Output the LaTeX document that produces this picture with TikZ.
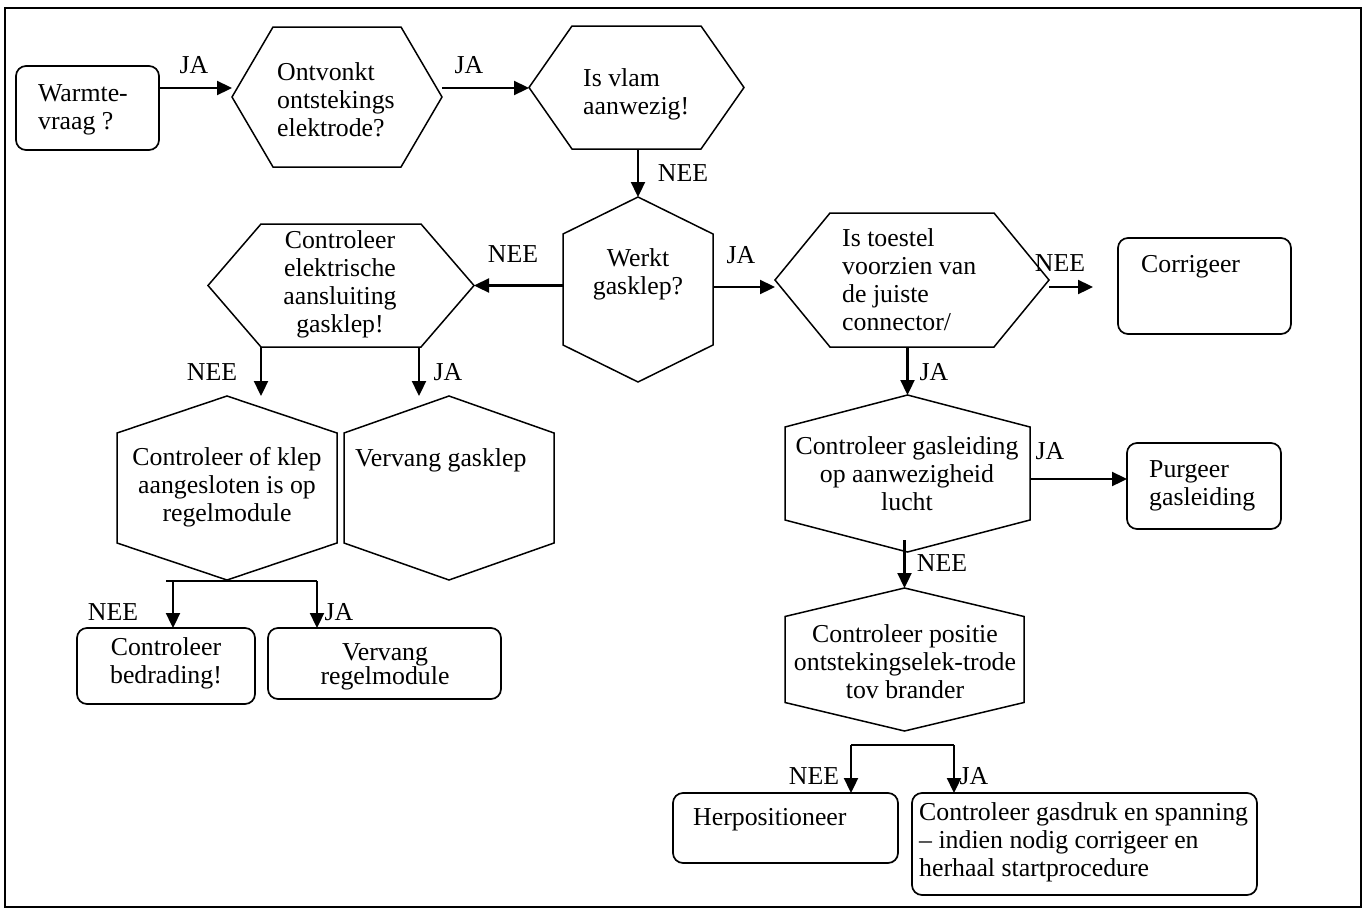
\documentclass[tikz,border=0pt]{standalone}
\usepackage{fontspec}
\setmainfont{Liberation Serif}
\usetikzlibrary{arrows.meta,calc}
\newcommand{\fsz}{\fontsize{25.8}{28}\selectfont}
\newcommand{\hexH}[2]{%
  \draw[hexline] ($(#1.north west)+(#2,0)$) -- ($(#1.north east)+(-#2,0)$) -- (#1.east)
    -- ($(#1.south east)+(-#2,0)$) -- ($(#1.south west)+(#2,0)$) -- (#1.west) -- cycle;}
\newcommand{\hexV}[2]{%
  \draw[hexline] (#1.north) -- ($(#1.north east)+(0,#2)$) -- ($(#1.south east)+(0,-#2)$)
    -- (#1.south) -- ($(#1.south west)+(0,-#2)$) -- ($(#1.north west)+(0,#2)$) -- cycle;}
\begin{document}
\begin{tikzpicture}[x=1pt,y=-1pt,
  shp/.style={rectangle,draw=none,inner sep=0pt,outer sep=0pt},
  box/.style={rectangle,draw,rounded corners=10pt,line width=1.7pt,inner sep=0pt,outer sep=0pt},
  hexline/.style={line width=1.5pt,line join=miter},
  txt/.style={inner sep=0pt,font=\fsz,align=center},
  ltxt/.style={inner sep=0pt,font=\fsz,align=left,anchor=west},
  lbl/.style={inner sep=0pt,font=\fsz},
  arr/.style={line width=2.3pt,-{Triangle[length=15pt,width=14pt]}},
  conn/.style={line width=2.3pt}]
\useasboundingbox (0,0) rectangle (1366,913);
\draw[line width=1.7pt] (5,8) rectangle (1361,907);

% shapes
\node[box, minimum width=143pt, minimum height=84pt] (warm) at (87.5,108) {};
\node[shp, minimum width=210pt, minimum height=140pt] (ont) at (337,97) {};
\hexH{ont}{41}
\node[shp, minimum width=215pt, minimum height=123pt] (vlam) at (636.5,87.5) {};
\hexH{vlam}{43}
\node[shp, minimum width=150pt, minimum height=185pt] (werkt) at (638,289.5) {};
\hexV{werkt}{37}
\node[shp, minimum width=266pt, minimum height=123pt] (celek) at (341,285.5) {};
\hexH{celek}{53}
\node[shp, minimum width=220pt, minimum height=184pt] (klep) at (227,488) {};
\hexV{klep}{37}
\node[shp, minimum width=210pt, minimum height=184pt] (vgas) at (449,488) {};
\hexV{vgas}{37}
\node[box, minimum width=178pt, minimum height=76pt] (bedr) at (166,666) {};
\node[box, minimum width=233pt, minimum height=71pt] (vreg) at (384.5,663.5) {};
\node[shp, minimum width=274pt, minimum height=134pt] (toes) at (912,280) {};
\hexH{toes}{55}
\node[box, minimum width=173pt, minimum height=96pt] (corr) at (1204.5,286) {};
\node[shp, minimum width=245pt, minimum height=157pt] (gas) at (907.5,473.5) {};
\hexV{gas}{32}
\node[box, minimum width=154pt, minimum height=86pt] (purg) at (1204,486) {};
\node[shp, minimum width=239pt, minimum height=143pt] (pos) at (904.5,659.5) {};
\hexV{pos}{28.5}
\node[box, minimum width=225pt, minimum height=70pt] (herp) at (785.5,828) {};
\node[box, minimum width=345pt, minimum height=102pt] (gdruk) at (1084.5,844) {};

% texts
\node[ltxt] (warmT) at (38,110) {Warmte-\\vraag ?};
\node[ltxt] (ontT) at (277,100) {Ontvonkt\\ontstekings\\elektrode?};
\node[ltxt] (vlamT) at (583,94) {Is vlam\\aanwezig!};
\node[txt] (werktT) at (638,274.5) {Werkt\\gasklep?};
\node[txt] (celekT) at (340,284.5) {Controleer\\elektrische\\aansluiting\\gasklep!};
\node[txt] (klepT) at (227,487) {Controleer of klep\\aangesloten is op\\regelmodule};
\node[ltxt] (vgasT) at (355,460) {Vervang gasklep};
\node[txt] (bedrT) at (166,663) {Controleer\\bedrading!};
\node[txt, font=\fontsize{25.8}{24}\selectfont] (vregT) at (385,666.5) {Vervang\\regelmodule};
\node[ltxt] (toesT) at (842,280) {Is toestel\\voorzien van\\de juiste\\connector/};
\node[ltxt] (corrT) at (1141,267) {Corrigeer};
\node[txt] (gasT) at (907,474) {Controleer gasleiding\\op aanwezigheid\\lucht};
\node[ltxt] (purgT) at (1149,486) {Purgeer\\gasleiding};
\node[txt] (posT) at (905,662) {Controleer positie\\ontstekingselek-trode\\tov brander};
\node[ltxt] (herpT) at (693,820) {Herpositioneer};
\node[ltxt] (gdrukT) at (919,842) {Controleer gasdruk en spanning\\– indien nodig corrigeer en\\herhaal startprocedure};

% labels
\node[lbl] (l1) at (194,65) {JA};
\node[lbl] (l2) at (469,65) {JA};
\node[lbl] (l3) at (683,173) {NEE};
\node[lbl] (l4) at (513,254) {NEE};
\node[lbl] (l5) at (741,255) {JA};
\node[lbl] (l6) at (1060,263) {NEE};
\node[lbl] (l7) at (212,372) {NEE};
\node[lbl] (l8) at (448,372) {JA};
\node[lbl] (l9) at (934,372) {JA};
\node[lbl] (l10) at (1050,451) {JA};
\node[lbl] (l11) at (942,563) {NEE};
\node[lbl] (l12) at (113,612) {NEE};
\node[lbl] (l13) at (339,612) {JA};
\node[lbl] (l14) at (814,776) {NEE};
\node[lbl] (l15) at (974,776) {JA};

% connectors
\coordinate (corrin) at (1093,287);
\draw[arr] ([yshift=20pt]warm.east) -- ([yshift=9pt]ont.west);
\draw[arr] ([yshift=9pt]ont.east) -- ([yshift=9pt]ont.east -| vlam.west);
\draw[arr] (vlam.south -| werkt.north) -- (werkt.north);
\draw[arr] (werkt.west |- celek.east) -- (celek.east);
\draw[arr] ([yshift=2.5pt]werkt.east) -- ([yshift=2.5pt]werkt.east -| toes.west);
\draw[arr] ([yshift=-7pt]toes.east) -- (corrin);
\draw[arr] ([xshift=-80pt]celek.south) -- ([xshift=-80pt]celek.south |- klep.north);
\draw[arr] ([xshift=78pt]celek.south) -- ([xshift=78pt]celek.south |- vgas.north);
\draw[conn] ([xshift=-61pt,yshift=-1pt]klep.south) -- ([xshift=90pt,yshift=-1pt]klep.south);
\draw[arr] ([xshift=-54pt,yshift=-1pt]klep.south) -- ([xshift=-54pt]klep.south |- bedr.north);
\draw[arr] ([xshift=90pt,yshift=-1pt]klep.south) -- ([xshift=90pt]klep.south |- vreg.north);
\draw[arr] (gas.north |- toes.south) -- (gas.north);
\draw[arr] ([yshift=-5.5pt]gas.east) -- ([yshift=-5.5pt]gas.east -| purg.west);
\draw[arr] ([yshift=12pt]gas.south -| pos.north) -- (pos.north);
\draw[conn] ([xshift=-53.5pt,yshift=-14pt]pos.south) -- ([xshift=49.5pt,yshift=-14pt]pos.south);
\draw[arr] ([xshift=-53.5pt,yshift=-14pt]pos.south) -- ([xshift=-53.5pt]pos.south |- herp.north);
\draw[arr] ([xshift=49.5pt,yshift=-14pt]pos.south) -- ([xshift=49.5pt]pos.south |- gdruk.north);
\end{tikzpicture}
\end{document}
